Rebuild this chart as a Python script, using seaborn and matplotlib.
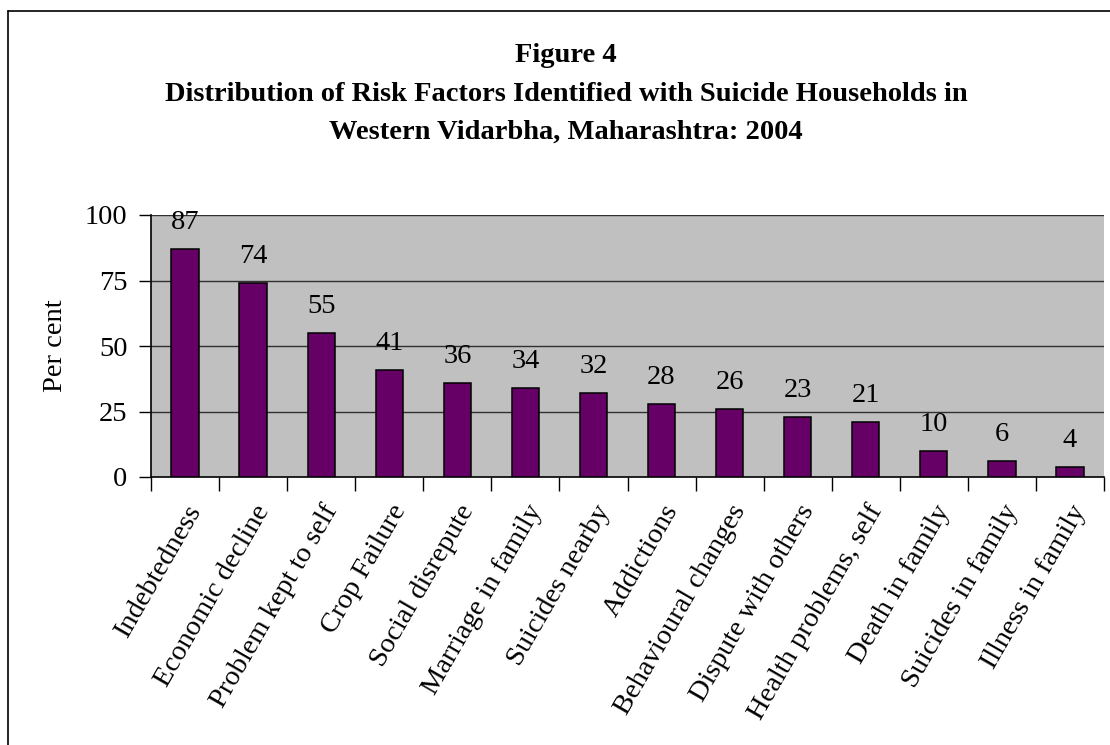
import numpy as np
import pandas as pd
import matplotlib
matplotlib.use("Agg")
import matplotlib.pyplot as plt
import matplotlib.transforms as mtransforms
from matplotlib.lines import Line2D
from matplotlib.ticker import FixedLocator
import seaborn as sns

# data
FACTORS = [
    "Indebtedness", "Economic decline", "Problem kept to self", "Crop Failure",
    "Social disrepute", "Marriage in family", "Suicides nearby", "Addictions",
    "Behavioural changes", "Dispute with others", "Health problems, self",
    "Death in family", "Suicides in family", "Illness in family",
]
PERCENT = [87, 74, 55, 41, 36, 34, 32, 28, 26, 23, 21, 10, 6, 4]
Y_TICKS = [0, 25, 50, 75, 100]
TITLE_LINES = [
    "Figure 4",
    "Distribution of Risk Factors Identified with Suicide Households in",
    "Western Vidarbha, Maharashtra: 2004",
]

BAR_COLOR = "#660066"
PLOT_BG = "#C0C0C0"
FS = 20.5

sns.set_theme(style="white")
plt.rcParams["font.family"] = ["Liberation Serif", "DejaVu Serif"]
plt.rcParams.update({"text.color": "black", "axes.labelcolor": "black",
                     "xtick.color": "black", "ytick.color": "black"})

df = pd.DataFrame({"factor": FACTORS, "pct": PERCENT})

fig = plt.figure(figsize=(11.1, 7.45), dpi=100)
ax = fig.add_axes([151 / 1110, 1 - 477 / 745, (1104 - 151) / 1110, (477 - 215) / 745])
ax.set_facecolor(PLOT_BG)

sns.barplot(data=df, x="factor", y="pct", color=BAR_COLOR, saturation=1,
            edgecolor="black", linewidth=1.1, width=0.40, ax=ax, zorder=3)

ax.set_ylim(0, 100)
ax.set_xlim(-0.5, len(FACTORS) - 0.5)
ax.yaxis.set_major_locator(FixedLocator(Y_TICKS))
for y in Y_TICKS[1:]:
    ax.axhline(y, color="#303030", linewidth=1.0, zorder=1)

# value labels, baseline ~20 px above each bar
for i, v in enumerate(PERCENT):
    ax.annotate(f"{v}", (i, v), xytext=(0, 20), textcoords="offset pixels",
                ha="center", va="baseline", fontsize=FS, zorder=4)

ax.set_xticks(range(len(FACTORS)))
ax.set_xticklabels(FACTORS, rotation=60, ha="right", va="top",
                   rotation_mode="anchor", fontsize=FS)
shift = mtransforms.ScaledTranslation(-4 / 100, 0, fig.dpi_scale_trans)
for lbl in ax.get_xticklabels():
    lbl.set_transform(lbl.get_transform() + shift)
ax.xaxis.set_minor_locator(FixedLocator(np.arange(-0.5, len(FACTORS), 1.0)))
ax.tick_params(axis="x", which="major", length=0, pad=17)
ax.tick_params(axis="x", which="minor", length=10, width=1, color="black", direction="out", bottom=True)
ax.tick_params(axis="y", which="major", length=9, width=1, color="black", direction="out",
               left=True, labelsize=FS, pad=8)

ax.set_xlabel("")
ax.set_ylabel("Per cent", fontsize=FS, labelpad=12)

for side in ["top", "right"]:
    ax.spines[side].set_visible(False)
for side in ["left", "bottom"]:
    ax.spines[side].set_color("black")
    ax.spines[side].set_linewidth(1.2)

# title lines (baselines)
for text, ypix in zip(TITLE_LINES, [62, 101, 139]):
    fig.text(566 / 1110, 1 - ypix / 745, text, ha="center", va="baseline",
             fontsize=FS, fontweight="bold")

# chart frame (only top and left edges inside the picture)
fig.add_artist(Line2D([7.5 / 1110, 7.5 / 1110], [0, 1 - 11 / 745], color="black", linewidth=1.2,
                      transform=fig.transFigure))
fig.add_artist(Line2D([7.5 / 1110, 1], [1 - 11 / 745, 1 - 11 / 745], color="black", linewidth=1.2,
                      transform=fig.transFigure))

fig.savefig("out.png", dpi=100, facecolor="white")
